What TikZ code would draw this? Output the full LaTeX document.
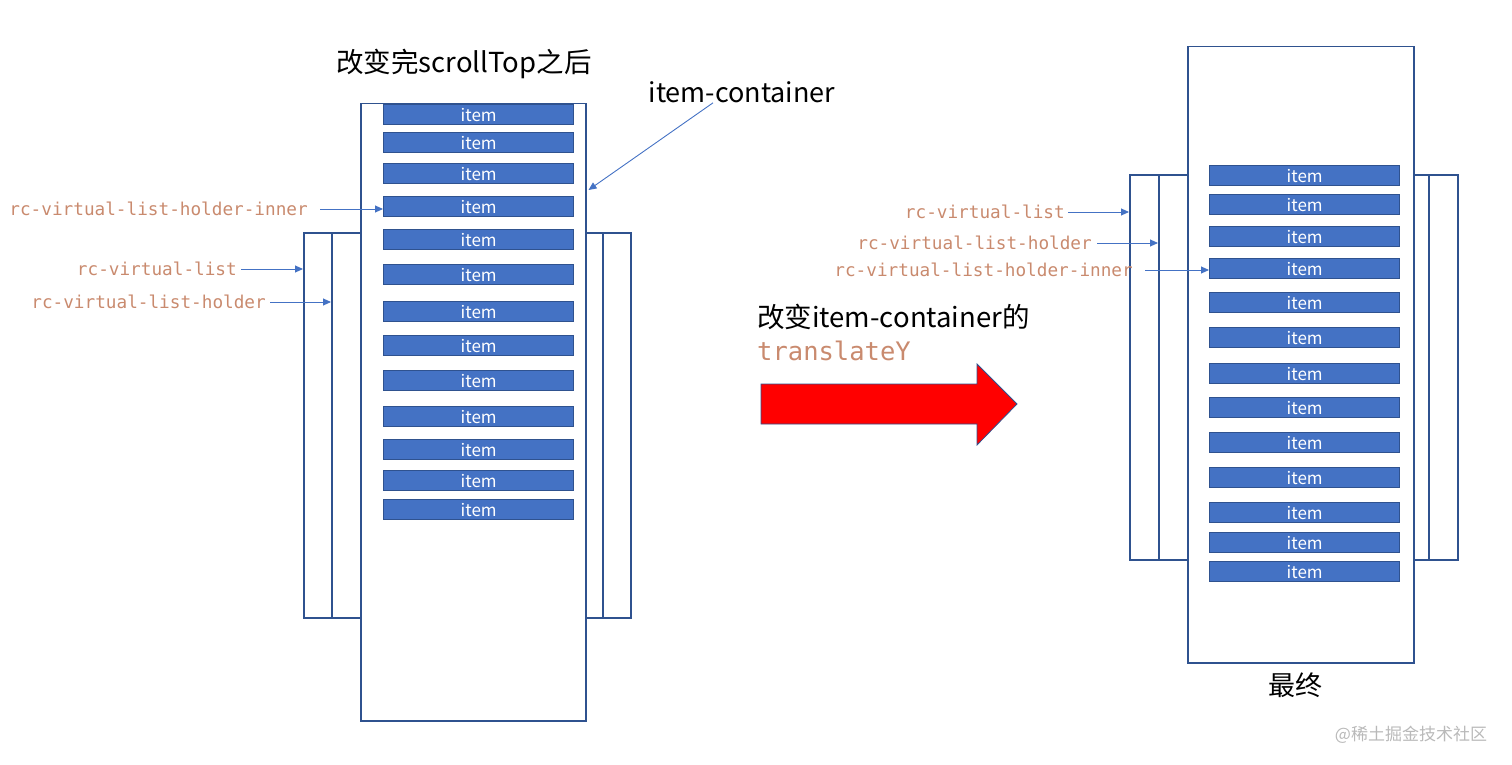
\documentclass[tikz,border=0pt]{standalone}
\usepackage{fontspec}
\newfontfamily\cjk{Noto Sans CJK SC}
\newfontfamily\codefont{DejaVu Sans Mono}
\usetikzlibrary{arrows.meta}
\definecolor{itemblue}{HTML}{4472C4}
\definecolor{edgeblue}{HTML}{2F528F}
\definecolor{codeorange}{HTML}{C98A6E}
\tikzset{
  boxframe/.style={draw=edgeblue, line width=1.5pt, fill=white, inner sep=0pt, anchor=north west},
  itembox/.style={draw=edgeblue, line width=1.3pt, fill=itemblue, text=white,
    minimum width=190pt, minimum height=20pt, inner sep=0pt, anchor=north west,
    font=\cjk\fontsize{17}{17}\selectfont},
  codelbl/.style={text=codeorange, font=\codefont\fontsize{17.7}{17.7}\selectfont, inner sep=0pt},
  headline/.style={font=\cjk\fontsize{27.5}{27.5}\selectfont, inner sep=0pt},
  ptr/.style={draw=itemblue, line width=0.9pt, -{Triangle[length=8pt,width=7pt]}},
}
\begin{document}
\begin{tikzpicture}[x=1pt,y=-1pt]
  \useasboundingbox (0,0) rectangle (1512,765);

  % before: after scrollTop changed
  \node[boxframe, minimum width=327pt, minimum height=385pt] (lvlist) at (303,232) {};
  \node[boxframe, minimum width=271pt, minimum height=385pt] (lholder) at (331,232) {};
  \node[boxframe, minimum width=225pt, minimum height=617pt] (lcont) at (360,103) {};
  \foreach \t [count=\i] in {104,132,163,196,229,264,301,335,370,406,439,470,499}
    \node[itembox] (litem\i) at (383,\t) {item};

  \node[headline] (ltitle) at (464,64) {改变完scrollTop之后};
  \node[headline, font=\cjk\fontsize{27}{27}\selectfont] (lcontlab) at (742,92) {item-container};
  \draw[ptr] ([xshift=-29pt]lcontlab.south) -- ([xshift=2pt,yshift=-87pt]lcont.north east);

  \node[codelbl, anchor=east] (lhi) at (308,209) {rc-virtual-list-holder-inner};
  \draw[ptr] ([xshift=12pt]lhi.east) -- (lhi.east -| litem4.west);
  \node[codelbl, anchor=east] (llist) at (237,269) {rc-virtual-list};
  \draw[ptr] ([xshift=4pt]llist.east) -- (llist.east -| lvlist.west);
  \node[codelbl, anchor=east] (lhold) at (266,302) {rc-virtual-list-holder};
  \draw[ptr] ([xshift=4pt]lhold.east) -- (lhold.east -| lholder.west);

  % change translateY
  \node[headline, anchor=west] (midtext) at (757,317) {改变item-container的};
  \node[codelbl, anchor=west, font=\codefont\fontsize{25.5}{25.5}\selectfont] (midcode) at (757,351) {translateY};
  \draw[edgeblue, line width=0.8pt, fill=red]
    (761,384) -- (977,384) -- (977,364) -- (1017,404) -- (977,445) -- (977,424) -- (761,424) -- cycle;

  % final
  \node[boxframe, minimum width=328pt, minimum height=385pt] (rvlist) at (1129,174) {};
  \node[boxframe, minimum width=270pt, minimum height=385pt] (rholder) at (1158,174) {};
  \node[boxframe, minimum width=226pt, minimum height=616pt] (rcont) at (1187,46) {};
  \foreach \t [count=\i] in {165,194,226,258,292,327,363,397,432,467,502,532,561}
    \node[itembox] (ritem\i) at (1209,\t) {item};

  \node[headline, font=\cjk\fontsize{27}{27}\selectfont] (rtitle) at (1295,685) {最终};

  \node[codelbl, anchor=east] (rlist) at (1065,212) {rc-virtual-list};
  \draw[ptr] ([xshift=3pt]rlist.east) -- (rlist.east -| rvlist.west);
  \node[codelbl, anchor=east] (rhold) at (1092,243) {rc-virtual-list-holder};
  \draw[ptr] ([xshift=5pt]rhold.east) -- (rhold.east -| rholder.west);
  \node[codelbl, anchor=east] (rhi) at (1133,270) {rc-virtual-list-holder-inner};
  \draw[ptr] ([xshift=12pt]rhi.east) -- (rhi.east -| ritem4.west);

  \node[text=gray!55, font=\cjk\fontsize{17}{17}\selectfont] (mark) at (1411,735) {@稀土掘金技术社区};
\end{tikzpicture}
\end{document}
